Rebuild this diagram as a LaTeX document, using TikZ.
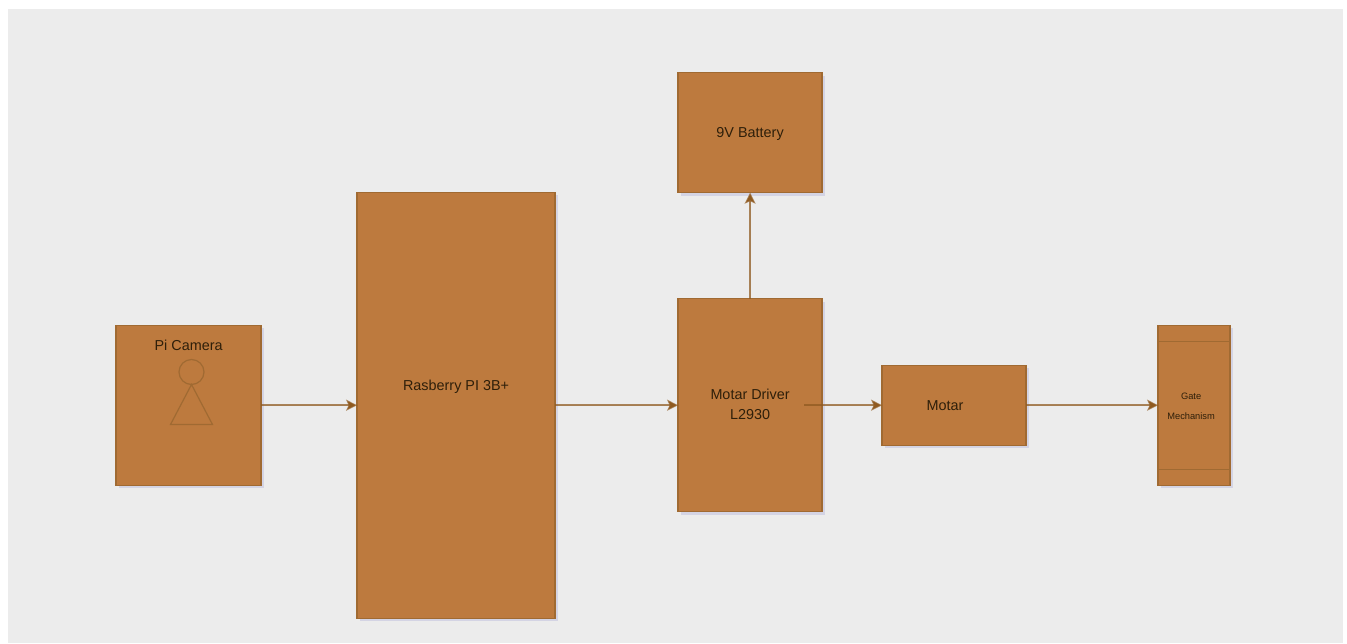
\documentclass[tikz,border=0pt]{standalone}
\usepackage{xcolor}
\usepackage{fontspec}
\setmainfont{Liberation Sans}
\usepackage{tikz}
\usetikzlibrary{arrows.meta,positioning,shadows}

\definecolor{panelgray}{HTML}{ECECEC}
\definecolor{boxfill}{HTML}{BD7A3E}
\definecolor{boxline}{HTML}{A06A32}
\definecolor{arrtip}{HTML}{8F5A20}
\definecolor{lbltext}{HTML}{2E1F0A}

\begin{document}
\begin{tikzpicture}[
  x=1pt, y=-1pt,
  node distance=96pt,
  every node/.style={font=\fontsize{14.4}{16}\selectfont, text=lbltext},
  box/.style={rectangle, draw=boxline, fill=boxfill, line width=1.25pt, inner sep=0pt, outer sep=0pt,
              drop shadow={shadow xshift=3pt, shadow yshift=-3pt, fill=blue!45!gray, opacity=0.14}},
  lbl/.style={inner sep=0pt, align=center},
  arr/.style={-{Stealth[length=11pt,width=11pt,inset=2.5pt]}, draw=arrtip, draw opacity=0.72, fill=arrtip, line width=1.5pt}]

\useasboundingbox (0,0) rectangle (1347,643);
\fill[panelgray] (8,9) rectangle (1343,643);

\node[box, minimum width=145pt, minimum height=160pt] (cam) at (188.6,405.2) {};
\node[box, minimum width=198pt, minimum height=426pt, right=96pt of cam] (pi) {};
\node[box, minimum width=144pt, minimum height=213pt, right=123pt of pi] (driver) {};
\node[box, minimum width=144pt, minimum height=120pt, above=106pt of driver] (battery) {};
\node[box, minimum width=144pt, minimum height=80pt, right=60pt of driver] (motor) {};
\node[box, minimum width=72pt, minimum height=160pt, right=132pt of motor] (gate) {};

\node[lbl, above=54pt of cam.center] (camlbl) {Pi Camera};
\node[lbl, above=12pt of pi.center] (pilbl) {Rasberry PI 3B+};
\node[lbl] at (driver.center) (driverlbl) [yshift=0.5pt] {Motar Driver\\[4pt]L2930};
\node[lbl] at (battery.center) (batterylbl) [yshift=-1pt] {9V Battery};
\node[lbl, xshift=-9pt] at (motor.center) (motorlbl) {Motar};
\node[lbl, font=\fontsize{9.3}{20}\selectfont, xshift=-3pt] at (gate.center) (gatelbl) [yshift=-1pt] {Gate\\Mechanism};

% person glyph
\node[circle, draw=boxline, line width=1.2pt, minimum size=25pt, inner sep=0pt, outer sep=0pt] (head) at (191.5,372) {};
\draw[draw=boxline, line width=1.2pt] (head.south) -- ++(-21,40) -- ++(42,0) -- cycle;

% bars in the gate box
\draw[boxline, line width=1.25pt] ([yshift=-16pt]gate.north west) -- ([yshift=-16pt]gate.north east);
\draw[boxline, line width=1.25pt] ([yshift=16pt]gate.south west) -- ([yshift=16pt]gate.south east);

\coordinate (driverout) at ([xshift=54pt]driver.center);

\draw[arr] (cam) -- (pi);
\draw[arr] (pi) -- (driver);
\draw[arr] (driver) -- (battery);
\draw[arr] (driverout) -- (motor);
\draw[arr] (motor) -- (gate);
\end{tikzpicture}
\end{document}
